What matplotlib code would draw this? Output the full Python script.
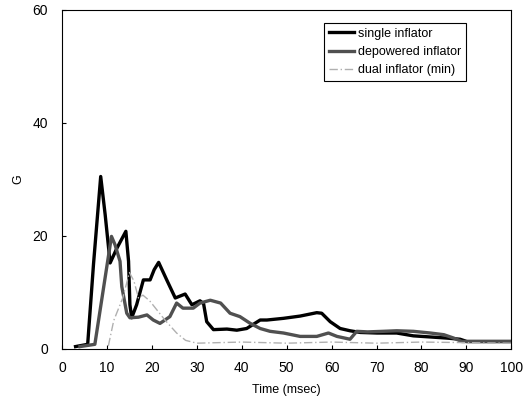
import matplotlib
matplotlib.use("Agg")
import matplotlib.pyplot as plt

plt.rcParams['font.family'] = ['Liberation Sans', 'DejaVu Sans']

# single inflator (black)
t_single = [3, 5.7, 7.0, 8.6, 9.6, 10.7, 12.2, 14.2, 14.8, 15.1, 15.5, 16.6, 18.1, 19.6, 20.5,
            21.5, 23.3, 25.2, 27.4, 28.9, 30.7, 31.5, 32.2, 33.7, 36.7, 38.9, 41.1, 44.1, 45.6,
            49.3, 53, 56.7, 57.8, 59.7, 61.9, 64.1, 66.4, 70.1, 74.5, 78.2, 82, 85.7, 88.6,
            90.1, 100]
g_single = [0.4, 0.8, 15, 30.5, 23.7, 15.2, 17.8, 20.8, 15.5, 7.8, 5.5, 7.8, 12.2, 12.2, 14,
            15.3, 12.2, 9, 9.7, 7.8, 8.5, 8, 4.8, 3.4, 3.5, 3.3, 3.6, 5.1, 5.1,
            5.4, 5.8, 6.4, 6.3, 4.8, 3.6, 3.2, 2.9, 2.8, 2.8, 2.3, 2.1, 1.9, 1.7,
            1.3, 1.3]

# depowered inflator (dark grey)
t_depow = [4, 7.3, 11.0, 11.8, 12.9, 13.3, 14.4, 15.1, 17, 18.9, 20.3, 21.8, 24, 25.5, 26.9,
           29.2, 30.7, 33, 35.3, 37.4, 39.6, 41.9, 44.1, 46.3, 49.3, 53, 56.7, 59.3, 61.2,
           64.1, 65.6, 68, 71.5, 74.5, 78.2, 82, 85, 87.2, 89, 90.1, 100]
g_depow = [0.4, 0.8, 19.9, 18.4, 15.5, 11, 6.3, 5.5, 5.6, 6, 5.1, 4.5, 5.7, 8.1, 7.2,
           7.2, 8.1, 8.6, 8.1, 6.3, 5.7, 4.5, 3.6, 3.1, 2.8, 2.2, 2.2, 2.8, 2.2,
           1.7, 3.1, 3.0, 3.1, 3.2, 3.1, 2.8, 2.5, 1.9, 1.3, 1.3, 1.3]

# dual inflator (min) (light grey dashed)
t_dual = [10.3, 11.5, 13.5, 15.0, 16.0, 17.0, 18.0, 19.5, 21.0, 23.0, 25.5, 27.5, 30, 40,
          50, 60, 70, 80, 90, 100]
g_dual = [0.5, 5, 9, 13.5, 12, 9, 9.5, 8.5, 7, 5, 2.8, 1.5, 1.0, 1.2,
          1.0, 1.2, 1.0, 1.2, 1.1, 1.0]

x_ticks = [0, 10, 20, 30, 40, 50, 60, 70, 80, 90, 100]
y_ticks = [0, 20, 40, 60]

fig = plt.figure(figsize=(5.26, 4.08), dpi=100)
ax = fig.add_axes([0.118, 0.145, 0.854, 0.831])

ax.plot(t_single, g_single, color='black', lw=2.4, label='single inflator')
ax.plot(t_depow, g_depow, color='#505050', lw=2.4, label='depowered inflator')
ax.plot(t_dual, g_dual, color='#b0b0b0', lw=1.0, linestyle=(0, (6, 2, 1, 2)),
        label='dual inflator (min)')

ax.set_xlim(0, 100)
ax.set_ylim(0, 60)
ax.set_xticks(x_ticks)
ax.set_yticks(y_ticks)
ax.tick_params(direction='in', length=3, labelsize=10)
ax.tick_params(axis='x', pad=9)
ax.tick_params(axis='y', pad=10)
ax.set_xlabel('Time (msec)', fontsize=9, labelpad=6)
ax.set_ylabel('G', fontsize=9, labelpad=6)

leg = ax.legend(loc='upper right', bbox_to_anchor=(0.9, 0.962), borderaxespad=0,
                fancybox=False, edgecolor='black', framealpha=1, fontsize=9,
                handlelength=2.0, handletextpad=0.3, labelspacing=0.5,
                borderpad=0.4)
leg.get_frame().set_linewidth(0.8)

fig.savefig('out.png', dpi=100)
